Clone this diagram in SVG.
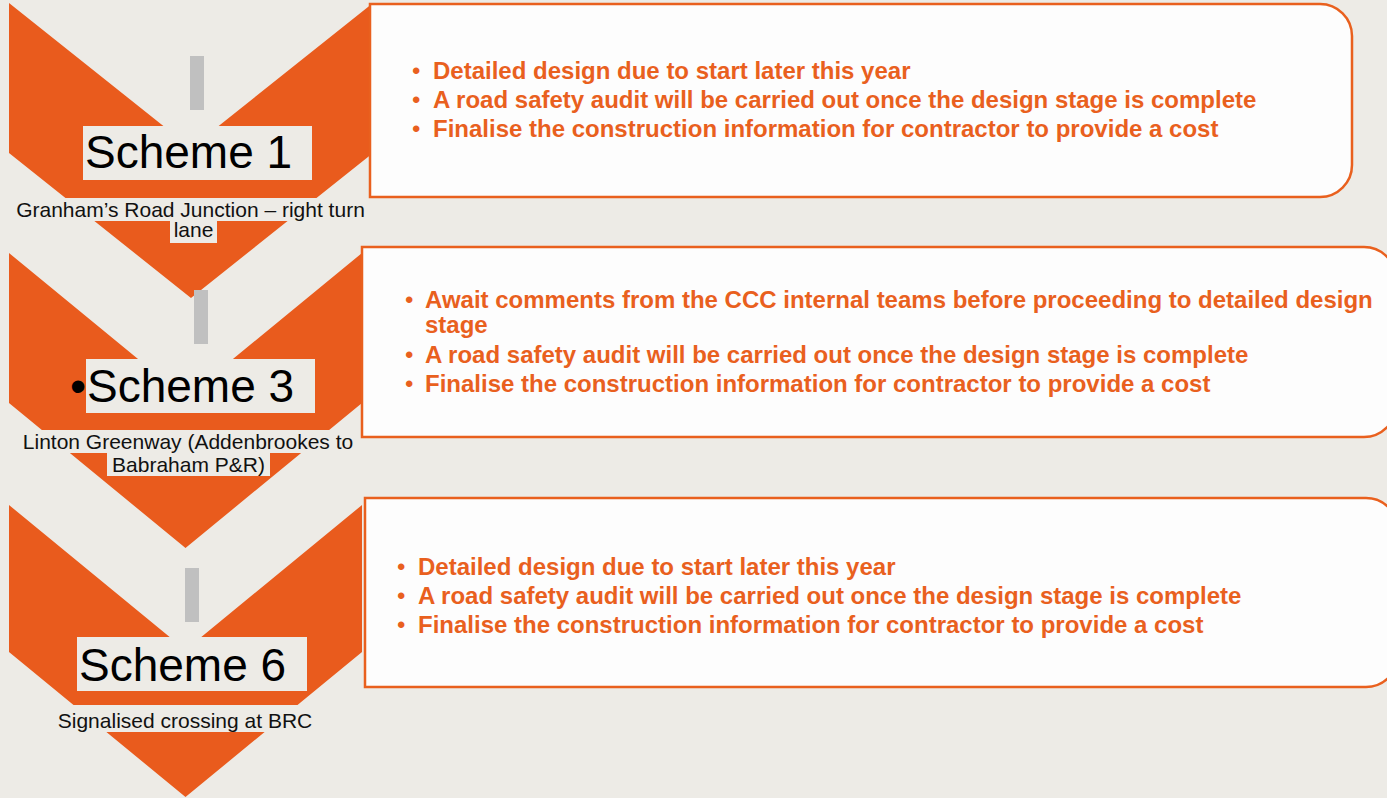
<svg xmlns="http://www.w3.org/2000/svg" width="1387" height="798" viewBox="0 0 1387 798">
<style>
.chev{fill:#E95B1D}
.bar{fill:#C0C0C0}
.hl{fill:#EDEBE6}
.title{font-family:"Liberation Sans",Arial,sans-serif;font-size:46px;fill:#000}
.sub{font-family:"Liberation Sans",Arial,sans-serif;font-size:21px;fill:#111;text-anchor:middle}
.box{fill:#FDFDFD;stroke:#E9601E;stroke-width:2.5}
.txt{font-family:"Liberation Sans",Arial,sans-serif;font-size:24px;font-weight:bold;fill:#E9601E}
.bul{font-family:"Liberation Sans",Arial,sans-serif;font-size:24px;fill:#E9601E}
</style>
<rect x="0" y="0" width="1387" height="798" fill="#EDEBE6"/>
<g id="scheme1">
<polygon class="chev" points="9,3 191,148 373,3 373,153 191,298 9,153"/>
<rect class="bar" x="190" y="56" width="14" height="54"/>
<rect class="hl" x="83" y="126" width="229" height="54"/>
<text class="title" x="85" y="168">Scheme 1</text>
<rect class="hl" x="12" y="198" width="357" height="23"/>
<rect class="hl" x="170" y="221" width="47" height="22"/>
<text class="sub" x="190.5" y="217">Granham’s Road Junction – right turn</text>
<text class="sub" x="193.5" y="237">lane</text>
</g>
<g id="box1">
<path class="box" d="M370,4 H1320 A32,32 0 0 1 1352,36 V165 A32,32 0 0 1 1320,197 H370 Z"/>
<text class="bul" x="412" y="79">•</text>
<text class="bul" x="412" y="108">•</text>
<text class="bul" x="412" y="137">•</text>
<text class="txt" x="433" y="79">Detailed design due to start later this year</text>
<text class="txt" x="433" y="108">A road safety audit will be carried out once the design stage is complete</text>
<text class="txt" x="433" y="137">Finalise the construction information for contractor to provide a cost</text>
</g>
<g id="scheme3">
<polygon class="chev" points="9,253 185.5,398 362,253 362,403 185.5,548 9,403"/>
<rect class="bar" x="194" y="290" width="14" height="54"/>
<rect class="hl" x="86" y="359" width="229" height="54"/>
<text class="title" x="70" y="402">•</text>
<text class="title" x="87" y="402">Scheme 3</text>
<rect class="hl" x="19" y="430" width="338" height="23"/>
<rect class="hl" x="107" y="453" width="163" height="23"/>
<text class="sub" x="188" y="449">Linton Greenway (Addenbrookes to</text>
<text class="sub" x="188.5" y="472">Babraham P&amp;R)</text>
</g>
<g id="box2">
<path class="box" d="M362,247 H1364 A32,32 0 0 1 1396,279 V405 A32,32 0 0 1 1364,437 H362 Z"/>
<text class="bul" x="405" y="308">•</text>
<text class="bul" x="405" y="363">•</text>
<text class="bul" x="405" y="392">•</text>
<text class="txt" x="425" y="308">Await comments from the CCC internal teams before proceeding to detailed design</text>
<text class="txt" x="425" y="333">stage</text>
<text class="txt" x="425" y="363">A road safety audit will be carried out once the design stage is complete</text>
<text class="txt" x="425" y="392">Finalise the construction information for contractor to provide a cost</text>
</g>
<g id="scheme6">
<polygon class="chev" points="9,505 185.5,650 362,505 362,652 185.5,797 9,652"/>
<rect class="bar" x="185" y="568" width="14" height="54"/>
<rect class="hl" x="77" y="637" width="230" height="54"/>
<text class="title" x="79" y="681">Scheme 6</text>
<rect class="hl" x="55" y="705" width="260" height="27"/>
<text class="sub" x="185" y="728">Signalised crossing at BRC</text>
</g>
<g id="box3">
<path class="box" d="M365,498 H1366 A32,32 0 0 1 1398,530 V655 A32,32 0 0 1 1366,687 H365 Z"/>
<text class="bul" x="397" y="575">•</text>
<text class="bul" x="397" y="604">•</text>
<text class="bul" x="397" y="633">•</text>
<text class="txt" x="418" y="575">Detailed design due to start later this year</text>
<text class="txt" x="418" y="604">A road safety audit will be carried out once the design stage is complete</text>
<text class="txt" x="418" y="633">Finalise the construction information for contractor to provide a cost</text>
</g>
<g id="connectors"/>
</svg>
